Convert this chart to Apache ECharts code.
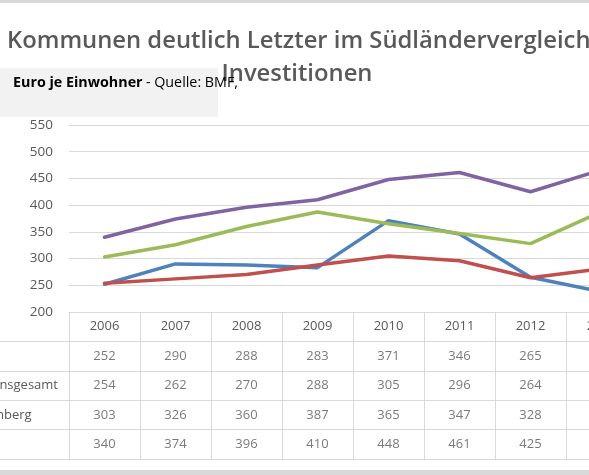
<!DOCTYPE html>
<html>
<head>
<meta charset="utf-8">
<script src="https://cdn.jsdelivr.net/npm/echarts@6/dist/echarts.min.js"></script>
<style>
  html, body { margin: 0; padding: 0; width: 589px; height: 475px; overflow: hidden; background: #fff; }
  #frame { position: absolute; left: 0; top: 0; width: 589px; height: 475px; overflow: hidden; }
  /* the chart is wider than the window: the original screenshot is cropped left and right */
  #chart { position: absolute; left: -200px; top: 0; width: 980px; height: 475px; }
</style>
</head>
<body>
<div id="frame"><div id="chart"></div></div>
<script>
const years = ['2006', '2007', '2008', '2009', '2010', '2011', '2012', '2013']
const rowNames = ['Bayern', 'Flächenländer insgesamt', 'Baden-Württemberg', 'Hessen']
const bayern = [252, 290, 288, 283, 371, 346, 265, 238]
const flaechenlaender = [254, 262, 270, 288, 305, 296, 264, 281]
const badenWuerttemberg = [303, 326, 360, 387, 365, 347, 328, 388]
const hessen = [340, 374, 396, 410, 448, 461, 425, 466]
const yMin = 200
const yMax = 550
const yStep = 50

const rows = [bayern, flaechenlaender, badenWuerttemberg, hessen]
const colors = ['#4f81bd', '#c0504d', '#9bbb59', '#8064a2']
const tableRows = [''].concat(rowNames)   // first row = header with the years

const OX = 200   // window x = container x - OX
const FONT = 'Open Sans'
const gridColor = '#d9d9d9'
const textColor = '#595959'
const titleFont = '600 23.8px "Open Sans"'

const chart = echarts.init(document.getElementById('chart'))

const lineSeries = rows.map((values, i) => ({
  name: rowNames[i],
  type: 'line',
  xAxisIndex: 0,
  yAxisIndex: 0,
  data: values,
  showSymbol: false,
  symbol: 'none',
  lineStyle: { width: 3.5, color: colors[i], cap: 'round', join: 'round' },
  itemStyle: { color: colors[i] },
  z: 3 + i
}))

// numbers of the data table, placed in cells through the table grid's category axes
const tableSeries = rows.map((values, i) => ({
  type: 'scatter',
  xAxisIndex: 1,
  yAxisIndex: 1,
  silent: true,
  symbol: 'rect',
  symbolSize: 1,
  itemStyle: { color: 'rgba(0,0,0,0)' },
  data: values.map((v, j) => [j, i + 1, v]),
  label: {
    show: true,
    position: 'inside',
    formatter: p => String(p.value[2]),
    color: textColor,
    fontFamily: FONT,
    fontSize: 13
  }
}))

chart.setOption({
  animation: false,
  backgroundColor: '#fff',
  textStyle: { fontFamily: FONT },
  graphic: [
    { type: 'rect', shape: { x: 0, y: 0, width: 980, height: 3 }, style: { fill: '#d9d9d9' }, silent: true },
    { type: 'rect', shape: { x: 0, y: 470, width: 980, height: 5 }, style: { fill: '#d9d9d9' }, silent: true },
    { type: 'rect', shape: { x: OX - 60, y: 68, width: 278, height: 49 }, style: { fill: '#f2f2f2' }, silent: true, z: 1 },
    {
      type: 'text', x: OX + 1, y: 41, z: 2,
      style: { text: 'Bayerns', fill: textColor, font: titleFont, align: 'right', verticalAlign: 'middle' }
    },
    {
      type: 'text', x: OX + 7, y: 41, z: 2,
      style: { text: 'Kommunen deutlich Letzter im Südländervergleich bei', fill: textColor, font: titleFont, align: 'left', verticalAlign: 'middle' }
    },
    {
      type: 'text', x: OX + 297, y: 74, z: 2,
      style: { text: 'Investitionen', fill: textColor, font: titleFont, align: 'center', verticalAlign: 'middle' }
    },
    {
      type: 'text', x: OX + 13, y: 83, z: 3,
      style: {
        text: '{b|Euro je Einwohner} {n|- Quelle: BMF,}',
        align: 'left',
        verticalAlign: 'middle',
        rich: {
          b: { fontFamily: FONT, fontSize: 14.3, fontWeight: 'bold', fill: '#000' },
          n: { fontFamily: FONT, fontSize: 14.3, fill: '#000' }
        }
      }
    }
  ],
  grid: [
    { left: OX + 69, top: 125, width: 568, height: 187 },
    { left: OX + 69, top: 312, width: 568, height: 147 },
    { left: OX - 93, top: 312, width: 162, height: 147 }
  ],
  xAxis: [
    {
      gridIndex: 0,
      type: 'category',
      data: years,
      boundaryGap: true,
      axisLine: { lineStyle: { color: gridColor } },
      axisTick: { show: false },
      axisLabel: { color: textColor, fontFamily: FONT, fontSize: 13, margin: 8 }
    },
    {
      gridIndex: 1,
      type: 'category',
      data: years,
      boundaryGap: true,
      axisLine: { show: false },
      axisTick: { show: false },
      axisLabel: { show: false },
      splitLine: { show: true, interval: 0, lineStyle: { color: gridColor } }
    },
    { gridIndex: 2, type: 'value', show: false }
  ],
  yAxis: [
    {
      gridIndex: 0,
      type: 'value',
      min: yMin,
      max: yMax,
      interval: yStep,
      axisLine: { show: false },
      axisTick: { show: false },
      axisLabel: { color: textColor, fontFamily: FONT, fontSize: 13.5, margin: 16 },
      splitLine: { lineStyle: { color: gridColor } }
    },
    {
      gridIndex: 1,
      type: 'category',
      data: tableRows,
      inverse: true,
      axisLine: { show: false },
      axisTick: { show: false },
      axisLabel: { show: false },
      splitLine: { show: true, interval: 0, lineStyle: { color: gridColor } }
    },
    {
      gridIndex: 2,
      type: 'category',
      data: tableRows,
      inverse: true,
      axisLine: { show: false },
      axisTick: { show: false },
      axisLabel: { inside: true, margin: 0, color: textColor, fontFamily: FONT, fontSize: 13 },
      splitLine: { show: true, interval: 0, showMinLine: false, lineStyle: { color: gridColor } }
    }
  ],
  series: lineSeries.concat(tableSeries)
})
</script>
</body>
</html>
